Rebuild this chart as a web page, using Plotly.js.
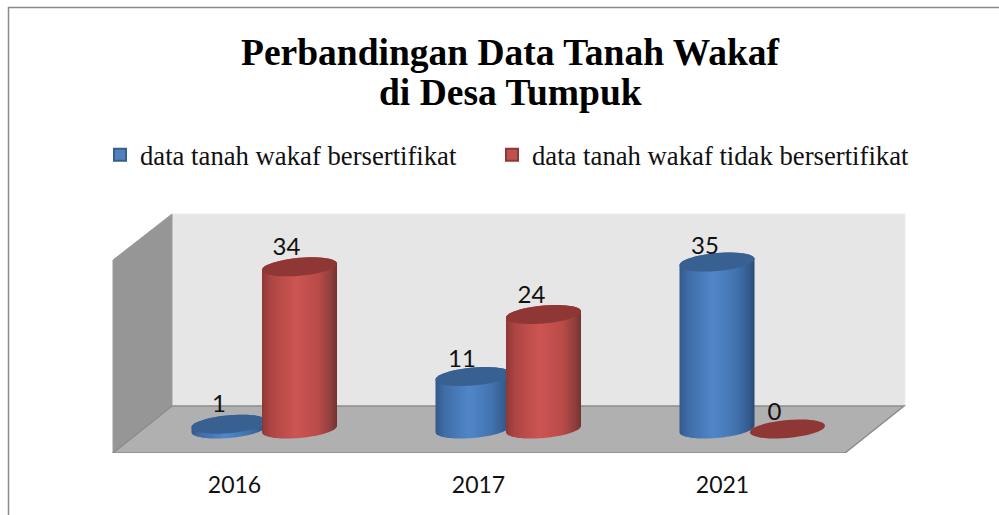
<!DOCTYPE html>
<html>
<head>
<meta charset="utf-8">
<script src="https://cdn.plot.ly/plotly-3.0.1.min.js"></script>
<style>html,body{margin:0;padding:0;background:#fff;overflow:hidden}</style>
</head>
<body>
<div id="chart" style="width:999px;height:515px"></div>
<script>
// ---- data ----
var years = ['2016', '2017', '2021'];
var seriesBersertifikat = [1, 11, 35];
var seriesTidak = [34, 24, 0];
var nameBersertifikat = 'data tanah wakaf bersertifikat';
var nameTidak = 'data tanah wakaf tidak bersertifikat';
var titleLine1 = 'Perbandingan Data Tanah Wakaf';
var titleLine2 = 'di Desa Tumpuk';

// ---- scale of the page: axis ranges are derived from these ----
var W = 999, H = 515;
var floorFrontPx = 453;      // bottom of plot area
var x0Px = 234.5, pxPerCat = 244;   // pixel of category 0, pixels per category
var y0Px = 429, pxPerVal = 4.77;    // pixel of value 0, pixels per unit
var X = function (px) { return (px - x0Px) / pxPerCat; };
var Y = function (px) { return (y0Px - px) / pxPerVal; };
var PY = function (px) { return 1 - px / floorFrontPx; };  // page pixel to paper fraction

// ---- cylinder look ----
var halfW = 37.5 / pxPerCat, tiltV = 3.2 / pxPerVal, halfV = 9 / pxPerVal;
var offsetBlue = -5.5 / pxPerCat, offsetRed = 65 / pxPerCat;
var blueStyle = {
  top: '#386090',
  grad: [[0, '#34598A'], [0.12, '#3F6DA6'], [0.45, '#5086C9'], [0.75, '#4273AF'], [0.92, '#345C8F'], [1, '#294A75']]
};
var redStyle = {
  top: '#8F3735',
  grad: [[0, '#8E3836'], [0.12, '#AD4543'], [0.45, '#CC5552'], [0.75, '#B94B48'], [0.92, '#8F3F3D'], [1, '#703230']]
};

function arc(cx, cv, from, to) {
  var xs = [], ys = [];
  for (var k = 0; k <= 48; k++) {
    var t = from + (to - from) * k / 48;
    xs.push(cx + halfW * Math.cos(t));
    ys.push(cv + tiltV * Math.cos(t) + halfV * Math.sin(t));
  }
  return { x: xs, y: ys };
}

function cylinder(cx, v, style) {
  var out = [];
  if (v > 0) {
    var base = arc(cx, 0, Math.PI, 2 * Math.PI);
    var upper = arc(cx, v, 0, Math.PI);
    out.push({
      type: 'scatter', mode: 'none', fill: 'toself', showlegend: false, hoverinfo: 'skip',
      x: base.x.concat(upper.x), y: base.y.concat(upper.y),
      fillgradient: { type: 'horizontal', colorscale: style.grad }
    });
  }
  var lid = arc(cx, v, 0, 2 * Math.PI);
  out.push({
    type: 'scatter', mode: 'none', fill: 'toself', showlegend: false, hoverinfo: 'skip',
    x: lid.x, y: lid.y, fillcolor: style.top
  });
  return out;
}

// real bars: carry the values and the legend, sit hidden behind the cylinders
function barTrace(name, vals, offset, color, line, legendId) {
  var w = 2 * halfW * 0.9;
  return {
    type: 'bar', name: name, x: [0, 1, 2], y: vals, width: w, offset: offset - w / 2, legend: legendId,
    marker: { color: color, line: { color: line, width: 2 } }, hoverinfo: 'x+y+name'
  };
}

var traces = [
  barTrace(nameBersertifikat, seriesBersertifikat, offsetBlue, '#4F81BD', '#385D8A', 'legend'),
  barTrace(nameTidak, seriesTidak, offsetRed, '#C0504D', '#8C3836', 'legend2')
];

// shorter cylinder of each pair is drawn first
years.forEach(function (_, i) {
  var b = cylinder(i + offsetBlue, seriesBersertifikat[i], blueStyle);
  var r = cylinder(i + offsetRed, seriesTidak[i], redStyle);
  traces = traces.concat(seriesBersertifikat[i] <= seriesTidak[i] ? b.concat(r) : r.concat(b));
});

// value labels
var labelDxPx = [[-10, -11, -12], [-13, -12, -13]];
var labelDyPx = [[-18, -15.5, -14], [-18, -18, -15]];
[[seriesBersertifikat, offsetBlue], [seriesTidak, offsetRed]].forEach(function (s, j) {
  traces.push({
    type: 'scatter', mode: 'text', showlegend: false, hoverinfo: 'skip',
    x: s[0].map(function (v, i) { return i + s[1] + labelDxPx[j][i] / pxPerCat; }),
    y: s[0].map(function (v, i) { return v - labelDyPx[j][i] / pxPerVal; }),
    text: s[0].map(String), textposition: 'middle center',
    textfont: { family: 'Lato', size: 24, color: '#111' }
  });
});

function poly(pts, fill, line, lw) {
  return {
    type: 'path', xref: 'x', yref: 'y', layer: 'below',
    path: 'M' + pts.map(function (p) { return X(p[0]) + ',' + Y(p[1]); }).join('L') + 'Z',
    fillcolor: fill, line: { color: line || fill, width: lw || 0 }
  };
}

var shapes = [
  // back wall
  poly([[172, 214], [905, 214], [905, 406], [172, 406]], '#E6E6E6', '#EDEDED', 1),
  // side wall
  poly([[113, 260], [172, 214], [172, 406], [113, 453]], '#969696', '#9A9A9A', 1),
  // floor
  poly([[172, 406], [904, 406], [845, 453], [113, 453]], '#B0B0B0', '#8C8C8C', 1.5),
  // frame of the image
  { type: 'line', xref: 'paper', yref: 'paper', x0: 8.5 / W, x1: 8.5 / W, y0: PY(H), y1: PY(7), line: { color: '#8A8A8A', width: 1.5 } },
  { type: 'line', xref: 'paper', yref: 'paper', x0: 8 / W, x1: 1, y0: PY(7.5), y1: PY(7.5), line: { color: '#8A8A8A', width: 1.5 } }
];

function legendBox(leftPx) {
  return {
    orientation: 'v', x: leftPx / W, xanchor: 'left',
    y: PY(155), yanchor: 'middle',
    font: { family: 'Liberation Serif', size: 26.7, color: '#111' },
    itemclick: false, itemdoubleclick: false,
    bgcolor: 'rgba(0,0,0,0)'
  };
}

var layout = {
  width: W, height: H,
  margin: { l: 0, r: 0, t: 0, b: H - floorFrontPx, pad: 0, autoexpand: false },
  paper_bgcolor: '#fff', plot_bgcolor: 'rgba(0,0,0,0)',
  showlegend: true,
  barmode: 'overlay',
  title: {
    text: '<b>' + titleLine1 + '</b>',
    x: 510 / W, xanchor: 'center', xref: 'paper',
    y: 1 - 52 / H, yanchor: 'middle', yref: 'container',
    font: { family: 'Liberation Serif', size: 37.5, color: '#000' }
  },
  annotations: [{
    text: '<b>' + titleLine2 + '</b>', xref: 'paper', yref: 'paper', showarrow: false,
    x: 510 / W, xanchor: 'center', y: PY(93), yanchor: 'middle',
    font: { family: 'Liberation Serif', size: 37.5, color: '#000' }
  }],
  legend: legendBox(100),
  legend2: legendBox(492),
  xaxis: {
    range: [X(0), X(W)], tickmode: 'array', tickvals: [0, 1, 2], ticktext: years,
    showgrid: false, zeroline: false, showline: false, fixedrange: true,
    ticks: 'outside', ticklen: 11, tickcolor: 'rgba(0,0,0,0)',
    tickfont: { family: 'Lato', size: 23, color: '#111' }
  },
  yaxis: {
    range: [Y(floorFrontPx), Y(0)], visible: false, fixedrange: true, showgrid: false, zeroline: false
  },
  shapes: shapes
};

Plotly.newPlot('chart', traces, layout, { displayModeBar: false });
</script>
</body>
</html>
